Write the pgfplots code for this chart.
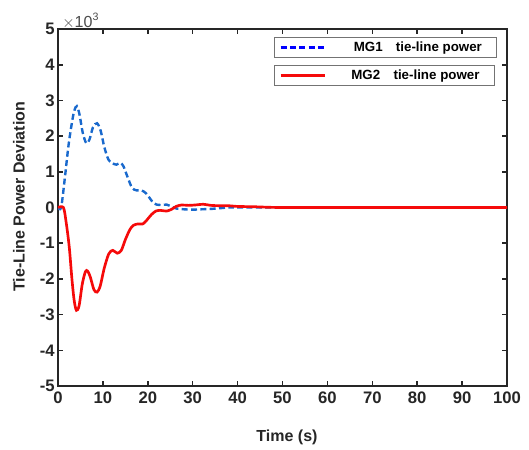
\documentclass[border=0pt]{standalone}
\usepackage{pgfplots}
\pgfplotsset{compat=1.18}
\usetikzlibrary{calc}
\usepackage{fontspec}
\setmainfont{Liberation Sans}
\definecolor{mgblue}{RGB}{25,105,205}
\definecolor{mgred}{RGB}{245,10,10}

\pgfplotstableread{
t dp
0 0
0.7 0
1.5 0.8
2.3 1.7
3 2.3
3.6 2.7
4.2 2.84
4.8 2.6
5.5 2.1
6.3 1.8
7 1.9
7.8 2.25
8.7 2.36
9.5 2.15
10.3 1.7
11.2 1.35
12 1.25
13 1.2
13.9 1.25
14.6 1.15
15.5 0.85
16.5 0.55
17.5 0.48
18.6 0.48
19.6 0.4
20.5 0.25
21.3 0.12
22 0.08
23 0.07
24.2 0.08
25.2 0.03
26.4 -0.03
28 -0.05
30 -0.06
32 -0.05
34 -0.04
36 -0.02
38 0
40 0
60 0
80 0
100 0
}\mgone

\pgfplotstableread{
t dp
0 0
1.2 0
1.8 -0.4
2.5 -1.1
3.1 -2.0
3.6 -2.6
4.1 -2.88
4.7 -2.75
5.4 -2.15
6.1 -1.8
6.6 -1.78
7.2 -1.95
8 -2.3
8.7 -2.37
9.4 -2.2
10.3 -1.7
11.3 -1.3
12.2 -1.2
13.2 -1.28
14.1 -1.2
15 -0.9
16 -0.62
16.8 -0.5
17.8 -0.46
18.9 -0.46
19.8 -0.35
20.8 -0.2
21.8 -0.1
22.8 -0.08
24.2 -0.1
25.3 -0.05
26.3 0.03
27.5 0.07
29 0.06
30.5 0.07
32.4 0.09
34 0.06
36 0.05
38 0.05
40 0.03
44 0.02
50 0
70 0
100 0
}\mgtwo

\pgfplotsset{
  common/.style={
    scale only axis,
    width=336.75pt, height=267.75pt,
    xmin=0, xmax=100, ymin=-5, ymax=5,
    legend cell align=left,
    legend style={font=\fontsize{10}{11}\selectfont\bfseries, draw=black!55,
      line width=0.6pt, inner xsep=0pt, inner ysep=2.75pt,
      nodes={inner sep=0pt, text height=7.5pt, text depth=2pt}},
    legend image code/.code={\path (-3.75pt,0) (0,0); \draw[##1] (0pt,0pt) -- (33pt,0pt);},
  },
}

\begin{document}
\begin{tikzpicture}
\begin{axis}[common, name=ax,
  axis line style={line width=1.6pt, black!85},
  tick style={line width=1.2pt, black!85},
  tick align=inside, major tick length=4pt,
  xtick={0,10,...,100}, ytick={-5,-4,...,5},
  /pgf/number format/assume math mode=true,
  ticklabel style={font=\fontsize{12.5}{14}\selectfont\bfseries, black!85},
  xticklabel style={yshift=-1pt},
  yticklabel style={xshift=1pt},
  xlabel={Time (s)}, ylabel={Tie-Line Power Deviation},
  label style={font=\fontsize{12}{14}\selectfont\bfseries, black!85},
  xlabel style={at={(rel axis cs:0.51,-0.143)}, anchor=center},
  ylabel style={at={(rel axis cs:-0.087,0.53)}, anchor=center},
  legend style={at={(0.481,0.9776)}, anchor=north west},
]
\addlegendimage{blue, line width=1.8pt, dash pattern=on 4.5pt off 2.5pt}
\addlegendentry{\hspace{21pt}MG1\hspace{10pt}tie-line power\kern11pt}
\addplot[mgblue, line width=1.8pt, smooth, dash pattern=on 4.5pt off 2.5pt, forget plot] table[x=t,y=dp] {\mgone};
\end{axis}
\begin{axis}[common, axis lines=none, at={(ax.south west)}, anchor=south west,
  legend style={at={(0.481,0.899)}, anchor=north west},
]
\addplot[mgred, line width=2pt, smooth] table[x=t,y=dp] {\mgtwo};
\addlegendentry{\hspace{19pt}MG2\hspace{10pt}tie-line power\kern11pt}
\end{axis}
\node[anchor=base west, inner sep=0pt, font=\fontsize{12}{13}\selectfont, black!70] at ($(ax.north west)+(3pt,1pt)$) {${\times}\mathrm{10}^{\mathrm{3}}$};
\pgfresetboundingbox
\path (ax.south west) ++(-43.5pt,-48pt) rectangle ($(ax.north east)+(16.5pt,21.75pt)$);
\end{tikzpicture}
\end{document}
